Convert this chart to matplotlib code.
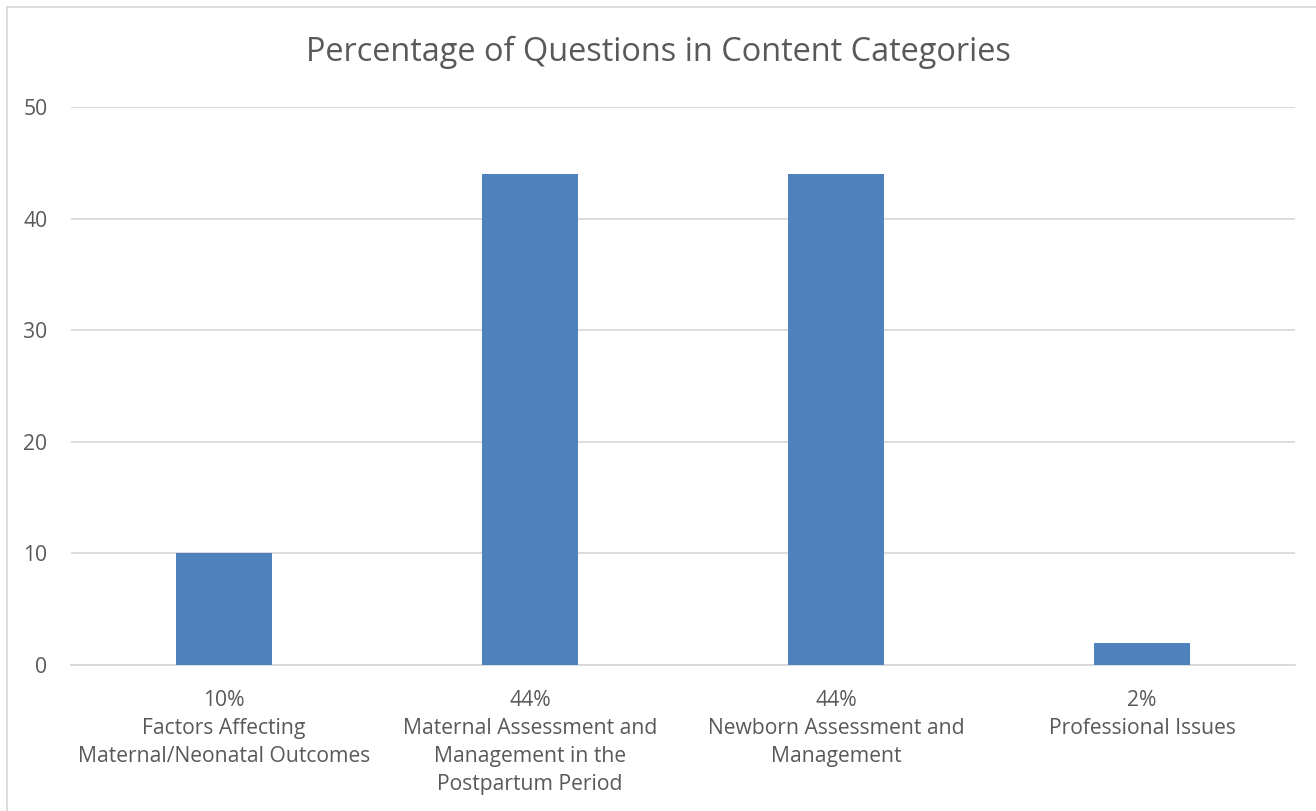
import matplotlib.pyplot as plt
from matplotlib.patches import Rectangle

# Data
categories = ['Factors Affecting\nMaternal/Neonatal Outcomes',
              'Maternal Assessment and\nManagement in the\nPostpartum Period',
              'Newborn Assessment and\nManagement',
              'Professional Issues']
percent_labels = ['10%', '44%', '44%', '2%']
values = [10, 44, 44, 2]

plt.rcParams['font.family'] = ['Open Sans', 'DejaVu Sans']
text_color = '#595959'
grid_color = '#d9d9d9'
bar_color = '#4f81bd'

fig = plt.figure(figsize=(13.16, 8.11), dpi=100)
ax = fig.add_axes([71 / 1316, 1 - 665 / 811, (1295 - 71) / 1316, (665 - 107) / 811])

x = list(range(len(values)))
ax.bar(x, values, width=0.313, color=bar_color, zorder=3)

ax.set_xlim(-0.5, 3.5)
ax.set_ylim(0, 50)
ax.set_yticks([0, 10, 20, 30, 40, 50])
ax.yaxis.grid(True, color=grid_color, linewidth=1.3, zorder=0)
ax.set_xticks(x)
ax.set_xticklabels([p + '\n' + c for p, c in zip(percent_labels, categories)],
                   linespacing=1.43)
ax.tick_params(axis='both', length=0, colors=text_color, labelsize=15.2)
ax.tick_params(axis='x', pad=18)
ax.tick_params(axis='y', pad=17)
for s in ['top', 'right', 'left']:
    ax.spines[s].set_visible(False)
ax.spines['bottom'].set_color(grid_color)
ax.spines['bottom'].set_linewidth(1.3)

fig.text(0.5, 1 - 52 / 811, 'Percentage of Questions in Content Categories',
         ha='center', va='center', fontsize=23.4, color=text_color)

# chart border
fig.patches.append(Rectangle((7 / 1316, -0.1), 1.2, 1 - 7 / 811 + 0.1,
                             transform=fig.transFigure, fill=False,
                             edgecolor=grid_color, linewidth=1.3))

fig.savefig('out.png', dpi=100)
